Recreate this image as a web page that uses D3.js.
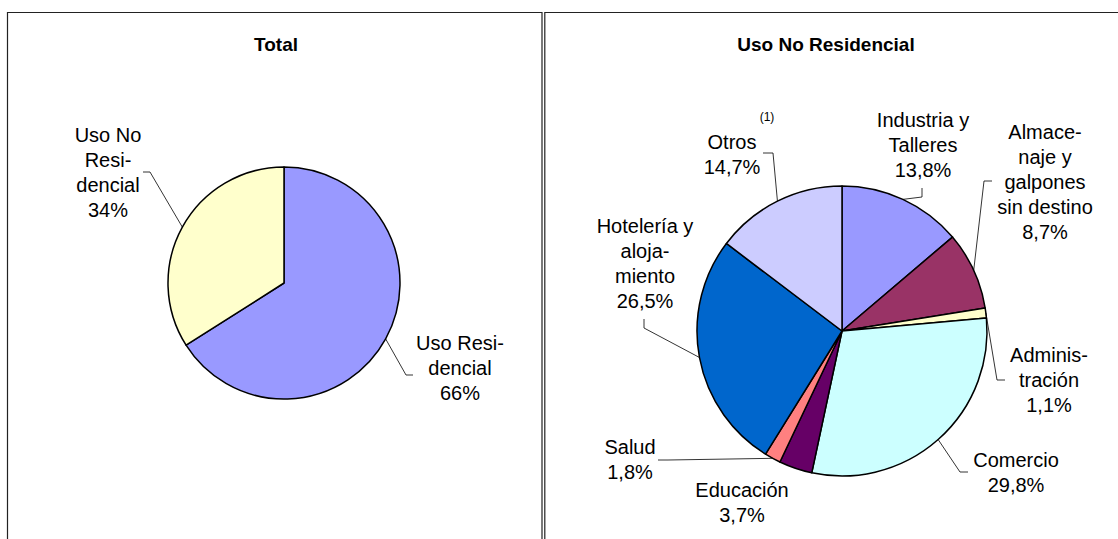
<!DOCTYPE html>
<html>
<head>
<meta charset="utf-8">
<script src="https://cdn.jsdelivr.net/npm/d3@7"></script>
<style>
  body { margin: 0; background: #fff; }
  svg { display: block; font-family: Arial, "Liberation Sans", sans-serif; }
</style>
</head>
<body>
<div id="chart"></div>
<script>
// Total
const totalCats = ["Uso Residencial", "Uso No Residencial"];
const totalValues = [66, 34];
const totalLabels = [["Uso Resi-", "dencial", "66%"], ["Uso No", "Resi-", "dencial", "34%"]];
const totalColors = ["#9999FF", "#FFFFCC"];

// Uso No Residencial
const noResCats = ["Industria y Talleres", "Almacenaje y galpones sin destino", "Administración",
  "Comercio", "Educación", "Salud", "Hotelería y alojamiento", "Otros"];
const noResValues = [13.8, 8.7, 1.1, 29.8, 3.7, 1.8, 26.5, 14.7];
const noResLabels = [
  ["Industria y", "Talleres", "13,8%"],
  ["Almace-", "naje y", "galpones", "sin destino", "8,7%"],
  ["Adminis-", "tración", "1,1%"],
  ["Comercio", "29,8%"],
  ["Educación", "3,7%"],
  ["Salud", "1,8%"],
  ["Hotelería y", "aloja-", "miento", "26,5%"],
  ["Otros", "14,7%"]
];
const noResColors = ["#9999FF", "#993366", "#FFFFCC", "#CCFFFF", "#660066", "#FF8080", "#0066CC", "#CCCCFF"];

const W = 1118, H = 539;
const svg = d3.select("#chart").append("svg").attr("width", W).attr("height", H);

// panel frames
svg.append("path")
  .attr("d", "M7.5,539 V12.5 H542 V539")
  .attr("fill", "none").attr("stroke", "#222").attr("stroke-width", 1.2);
svg.append("path")
  .attr("d", "M544.8,539 V12.5 H1118")
  .attr("fill", "none").attr("stroke", "#222").attr("stroke-width", 1.2);

function drawPie(cfg) {
  const g = svg.append("g");

  g.append("text")
    .attr("x", cfg.titleX).attr("y", 51)
    .attr("text-anchor", "middle")
    .style("font-size", "19px").style("font-weight", "bold")
    .text(cfg.title);

  const pie = d3.pie().sort(null).value(d => d)(cfg.values);
  const arc = d3.arc().innerRadius(0).outerRadius(cfg.r);

  const pg = g.append("g").attr("transform", `translate(${cfg.cx},${cfg.cy})`);
  pg.selectAll("path.slice")
    .data(pie)
    .enter().append("path")
    .attr("class", "slice")
    .attr("d", arc)
    .attr("fill", (d, i) => cfg.colors[i])
    .attr("stroke", "#000")
    .attr("stroke-width", 1.5)
    .attr("stroke-linejoin", "round");

  pie.forEach((d, i) => {
    const lay = cfg.layout[i];
    const a = (d.startAngle + d.endAngle) / 2;
    const px = cfg.cx + cfg.r * Math.sin(a);
    const py = cfg.cy - cfg.r * Math.cos(a);

    if (lay.elbow) {
      g.append("polyline")
        .attr("points", [[px, py], lay.elbow, lay.end].map(p => p.join(",")).join(" "))
        .attr("fill", "none")
        .attr("stroke", "#000")
        .attr("stroke-width", 0.8);
    }

    const t = g.append("text")
      .attr("text-anchor", "middle")
      .style("font-size", "20px")
      .attr("fill", "#000");
    cfg.labels[i].forEach((line, k) => {
      t.append("tspan")
        .attr("x", lay.x)
        .attr("y", lay.y + k * 25 + 7)
        .text(line);
    });
  });
  return g;
}

drawPie({
  title: "Total", titleX: 276,
  cx: 284, cy: 283, r: 116,
  values: totalValues, colors: totalColors, labels: totalLabels,
  layout: [
    { x: 460, y: 343, elbow: [406, 375], end: [413, 375] },
    { x: 108, y: 135, elbow: [150, 172], end: [143, 172] }
  ]
});

const right = drawPie({
  title: "Uso No Residencial", titleX: 826,
  cx: 842, cy: 331, r: 145,
  values: noResValues, colors: noResColors, labels: noResLabels,
  layout: [
    { x: 923, y: 120, elbow: [922, 197], end: [922, 188] },
    { x: 1045, y: 132, elbow: [984, 181], end: [992, 181] },
    { x: 1049, y: 355, elbow: [997, 380], end: [1005, 380] },
    { x: 1016, y: 460, elbow: [960, 472], end: [968, 472] },
    { x: 742, y: 490 },
    { x: 630, y: 447, elbow: [668, 460], end: [658, 460] },
    { x: 645, y: 226, elbow: [644, 328], end: [644, 319] },
    { x: 732, y: 142, elbow: [773, 153], end: [763, 153] }
  ]
});

right.append("text")
  .attr("x", 767).attr("y", 121)
  .attr("text-anchor", "middle")
  .style("font-size", "12px")
  .text("(1)");
</script>
</body>
</html>
